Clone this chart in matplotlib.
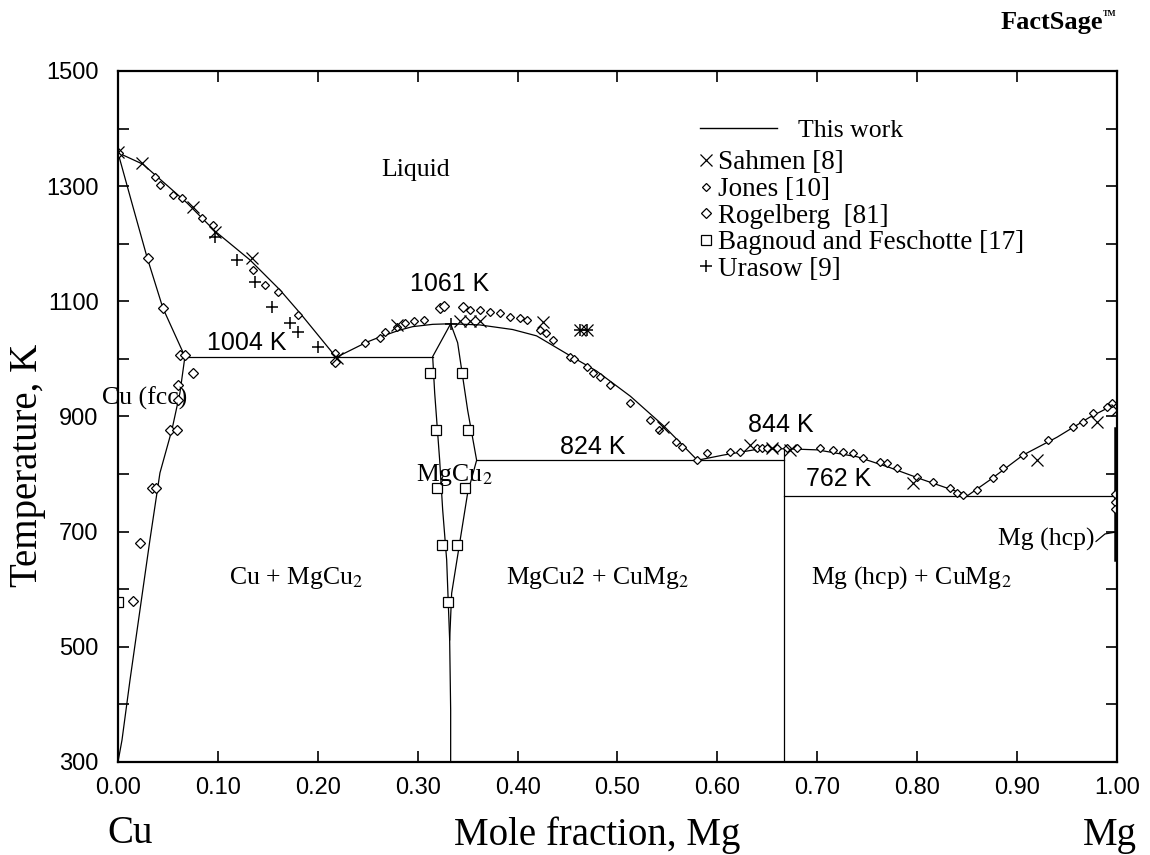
import numpy as np
import matplotlib
matplotlib.use('Agg')
import matplotlib.pyplot as plt
from matplotlib.lines import Line2D

plt.rcParams['mathtext.fontset'] = 'stix'

SERIF = ['Liberation Serif', 'DejaVu Serif']
NARROW = ['Liberation Sans Narrow', 'Liberation Sans', 'DejaVu Sans']
SANS = ['Liberation Sans', 'DejaVu Sans']

# phase boundaries (this work)
liq_cu_x = [0.0, 0.025, 0.069, 0.097, 0.132, 0.162, 0.182, 0.215, 0.22]
liq_cu_t = [1358, 1338, 1271, 1222, 1172, 1120, 1080, 1010, 1004]
liq_mid_x = [0.22, 0.249, 0.262, 0.282, 0.295, 0.315, 0.333, 0.362, 0.395, 0.419, 0.454, 0.479, 0.513, 0.546, 0.58]
liq_mid_t = [1004, 1029, 1038, 1050, 1056, 1060, 1061, 1059, 1051, 1040, 1004, 979, 935, 884, 824]
liq_mg_x = [0.58, 0.606, 0.64, 0.667, 0.70, 0.74, 0.773, 0.806, 0.846, 0.85, 0.873, 0.906, 0.94, 0.973, 1.0]
liq_mg_t = [824, 833, 843, 844, 842, 830, 811, 790, 766, 762, 790, 833, 864, 899, 923]
sol_cu_x = [0.0, 0.015, 0.029, 0.045, 0.067]
sol_cu_t = [1358, 1264, 1177, 1088, 1004]
solv_cu_x = [0.067, 0.062, 0.054, 0.042, 0.032, 0.022, 0.012, 0.004, 0.0]
solv_cu_t = [1004, 941, 877, 802, 686, 564, 442, 338, 300]
mgcu2_l_x = [0.333, 0.315, 0.317, 0.322, 0.325, 0.329, 0.332, 0.333, 0.333]
mgcu2_l_t = [1061, 1004, 941, 824, 738, 651, 512, 390, 300]
mgcu2_r_x = [0.333, 0.340, 0.350, 0.359, 0.350, 0.342, 0.334, 0.332]
mgcu2_r_t = [1061, 1028, 911, 824, 767, 680, 593, 512]
cumg2_x = [0.667, 0.667]
cumg2_t = [300, 844]
mg_solv_x = [0.998, 0.998]
mg_solv_t = [880, 650]
mg_lead_x = [0.979, 0.988, 0.998]
mg_lead_t = [683, 696, 699]
eut1_x, eut1_t = [0.067, 0.315], [1004, 1004]
eut2_x, eut2_t = [0.359, 0.667], [824, 824]
eut3_x, eut3_t = [0.667, 1.0], [762, 762]

# experimental data
sahmen_x = [0.0, 0.024, 0.075, 0.097, 0.134, 0.219, 0.279, 0.342, 0.352, 0.362, 0.425, 0.462, 0.469,
            0.546, 0.633, 0.655, 0.673, 0.796, 0.92, 0.98, 1.0]
sahmen_t = [1360, 1340, 1264, 1220, 1175, 1001, 1058, 1065, 1065, 1065, 1064, 1050, 1050,
            882, 851, 846, 842, 785, 824, 890, 911]
jones_x = [0.037, 0.042, 0.055, 0.064, 0.084, 0.095, 0.135, 0.147, 0.16, 0.18, 0.217,
           0.247, 0.262, 0.267, 0.279, 0.287, 0.296, 0.306, 0.352, 0.362, 0.372, 0.382, 0.392,
           0.402, 0.409, 0.422, 0.428, 0.435, 0.452, 0.456, 0.469, 0.475, 0.482, 0.492, 0.513,
           0.533, 0.542, 0.559, 0.565, 0.58, 0.59, 0.613, 0.623, 0.64, 0.645, 0.65, 0.66, 0.67,
           0.68, 0.703, 0.716, 0.726, 0.736, 0.746, 0.763, 0.77, 0.78, 0.8, 0.816, 0.833, 0.84,
           0.846, 0.86, 0.876, 0.886, 0.906, 0.931, 0.956, 0.966, 0.976, 0.99, 0.995, 0.998,
           0.998, 0.998]
jones_t = [1316, 1302, 1285, 1279, 1245, 1233, 1154, 1128, 1116, 1076, 1010,
           1028, 1036, 1047, 1055, 1062, 1065, 1067, 1085, 1085, 1082, 1080, 1073,
           1071, 1068, 1050, 1045, 1033, 1004, 1000, 986, 976, 969, 955, 924,
           894, 877, 856, 847, 824, 836, 838, 838, 845, 845, 845, 845, 845,
           845, 845, 842, 838, 837, 828, 821, 819, 811, 795, 786, 776, 767,
           764, 772, 793, 811, 833, 859, 882, 890, 906, 917, 923, 765,
           752, 740]
rogel_x = [0.0, 0.03, 0.045, 0.062, 0.067, 0.075, 0.06, 0.06, 0.052, 0.059, 0.034, 0.038,
           0.022, 0.015, 0.217, 0.322, 0.326, 0.345]
rogel_t = [1358, 1175, 1088, 1007, 1007, 976, 955, 929, 877, 877, 775, 775,
           680, 580, 995, 1088, 1092, 1090]
bagnoud_x = [0.312, 0.344, 0.318, 0.35, 0.319, 0.347, 0.324, 0.339, 0.33, 0.0]
bagnoud_t = [976, 976, 877, 877, 776, 776, 677, 677, 578, 578]
urasow_x = [0.097, 0.119, 0.137, 0.154, 0.172, 0.18, 0.20, 0.333, 0.462, 0.469]
urasow_t = [1212, 1172, 1134, 1090, 1062, 1047, 1021, 1061, 1050, 1050]

x_ticks = [0.0, 0.1, 0.2, 0.3, 0.4, 0.5, 0.6, 0.7, 0.8, 0.9, 1.0]
y_major = [300, 500, 700, 900, 1100, 1300, 1500]
y_minor = [400, 600, 800, 1000, 1200, 1400]

# label centres: (text, x, T)
temp_labels = [('1004 K', 0.129, 1028), ('1061 K', 0.332, 1130), ('824 K', 0.475, 847),
               ('844 K', 0.663, 885), ('762 K', 0.721, 791)]
phase_labels = [('Liquid', 0.298, 1328), ('Cu (fcc)', 0.027, 932), ('MgCu$_2$', 0.337, 798),
                ('Cu + MgCu$_2$', 0.178, 620), ('MgCu2 + CuMg$_2$', 0.48, 620),
                ('Mg (hcp) + CuMg$_2$', 0.794, 620), ('Mg (hcp)', 0.929, 686)]


def main():
    fig = plt.figure(figsize=(11.5, 8.55), dpi=100)
    ax = fig.add_axes([0.1026, 0.1088, 0.8687, 0.8082])

    lw = 0.9
    for xs, ts in [(liq_cu_x, liq_cu_t), (liq_mid_x, liq_mid_t), (liq_mg_x, liq_mg_t),
                   (sol_cu_x, sol_cu_t), (solv_cu_x, solv_cu_t), (mgcu2_l_x, mgcu2_l_t),
                   (mgcu2_r_x, mgcu2_r_t), (cumg2_x, cumg2_t), (eut1_x, eut1_t),
                   (eut2_x, eut2_t), (eut3_x, eut3_t), (mg_lead_x, mg_lead_t)]:
        ax.plot(xs, ts, color='black', lw=lw)
    ax.plot(mg_solv_x, mg_solv_t, color='black', lw=1.8)

    mk = dict(linestyle='none', color='black', markerfacecolor='white', markeredgewidth=0.9)
    ax.plot(jones_x, jones_t, marker='D', markersize=4.2, **mk)
    ax.plot(rogel_x, rogel_t, marker='D', markersize=5.2, **mk)
    ax.plot(bagnoud_x, bagnoud_t, marker='s', markersize=7, **mk)
    ax.plot(sahmen_x, sahmen_t, marker='x', markersize=8, linestyle='none', color='black', markeredgewidth=0.9)
    ax.plot(urasow_x, urasow_t, marker='+', markersize=9, linestyle='none', color='black', markeredgewidth=1.1)

    for txt, x, t in temp_labels:
        ax.text(x, t, txt, family=SANS, fontsize=18, ha='center', va='center')
    for txt, x, t in phase_labels:
        ax.text(x, t, txt, family=SERIF, fontsize=18.5, ha='center', va='center')

    ax.set_xlim(0, 1)
    ax.set_ylim(300, 1500)
    ax.set_xticks(x_ticks)
    ax.set_xticklabels(['%.2f' % v for v in x_ticks])
    ax.set_yticks(y_major)
    ax.set_yticks(y_minor, minor=True)
    ax.tick_params(which='both', direction='in', top=True, right=True, length=8, width=1.2)
    ax.tick_params(axis='x', pad=11)
    ax.tick_params(axis='y', pad=14)
    for lab in ax.get_xticklabels() + ax.get_yticklabels():
        lab.set_family(NARROW)
        lab.set_fontsize(17)
    for sp in ax.spines.values():
        sp.set_linewidth(1.6)

    fig.text(28 / 1150, 1 - 465 / 855, 'Temperature, K', family=SERIF, fontsize=28,
             rotation=90, ha='center', va='center')
    fig.text(597 / 1150, 1 - 835 / 855, 'Mole fraction, Mg', family=SERIF, fontsize=28, ha='center', va='center')
    fig.text(130 / 1150, 1 - 833 / 855, 'Cu', family=SERIF, fontsize=28, ha='center', va='center')
    fig.text(1110 / 1150, 1 - 835 / 855, 'Mg', family=SERIF, fontsize=28, ha='center', va='center')
    fig.text(1052 / 1150, 1 - 22 / 855, 'FactSage', family=SERIF, fontsize=19, fontweight='bold',
             ha='center', va='center')
    fig.text(1103 / 1150, 1 - 14 / 855, 'TM', family=SERIF, fontsize=6, fontweight='bold',
             ha='left', va='center')

    # legend
    h1 = Line2D([], [], color='black', lw=1.0)
    leg1 = ax.legend([h1], ['This work'], loc='upper left', bbox_to_anchor=(0.583, 0.93),
                     frameon=False, prop=dict(family=SERIF, size=18.5), handlelength=3.0,
                     handletextpad=0.8, borderpad=0, borderaxespad=0)
    ax.add_artist(leg1)
    hs = [Line2D([], [], marker='x', color='black', ls='none', ms=8, mew=0.9),
          Line2D([], [], marker='D', ls='none', color='black', mfc='white', ms=4.2, mew=0.9),
          Line2D([], [], marker='D', ls='none', color='black', mfc='white', ms=5.2, mew=0.9),
          Line2D([], [], marker='s', ls='none', color='black', mfc='white', ms=7, mew=0.9),
          Line2D([], [], marker='+', ls='none', color='black', ms=9, mew=1.1)]
    labels = ['Sahmen [8]', 'Jones [10]', 'Rogelberg  [81]', 'Bagnoud and Feschotte [17]', 'Urasow [9]']
    ax.legend(hs, labels, loc='upper left', bbox_to_anchor=(0.5806, 0.885), frameon=False,
              prop=dict(family=SERIF, size=19.5), handlelength=0.6, handletextpad=0.12,
              labelspacing=0.06, borderpad=0, borderaxespad=0)

    fig.savefig('out.png', dpi=100)


if __name__ == '__main__':
    main()
